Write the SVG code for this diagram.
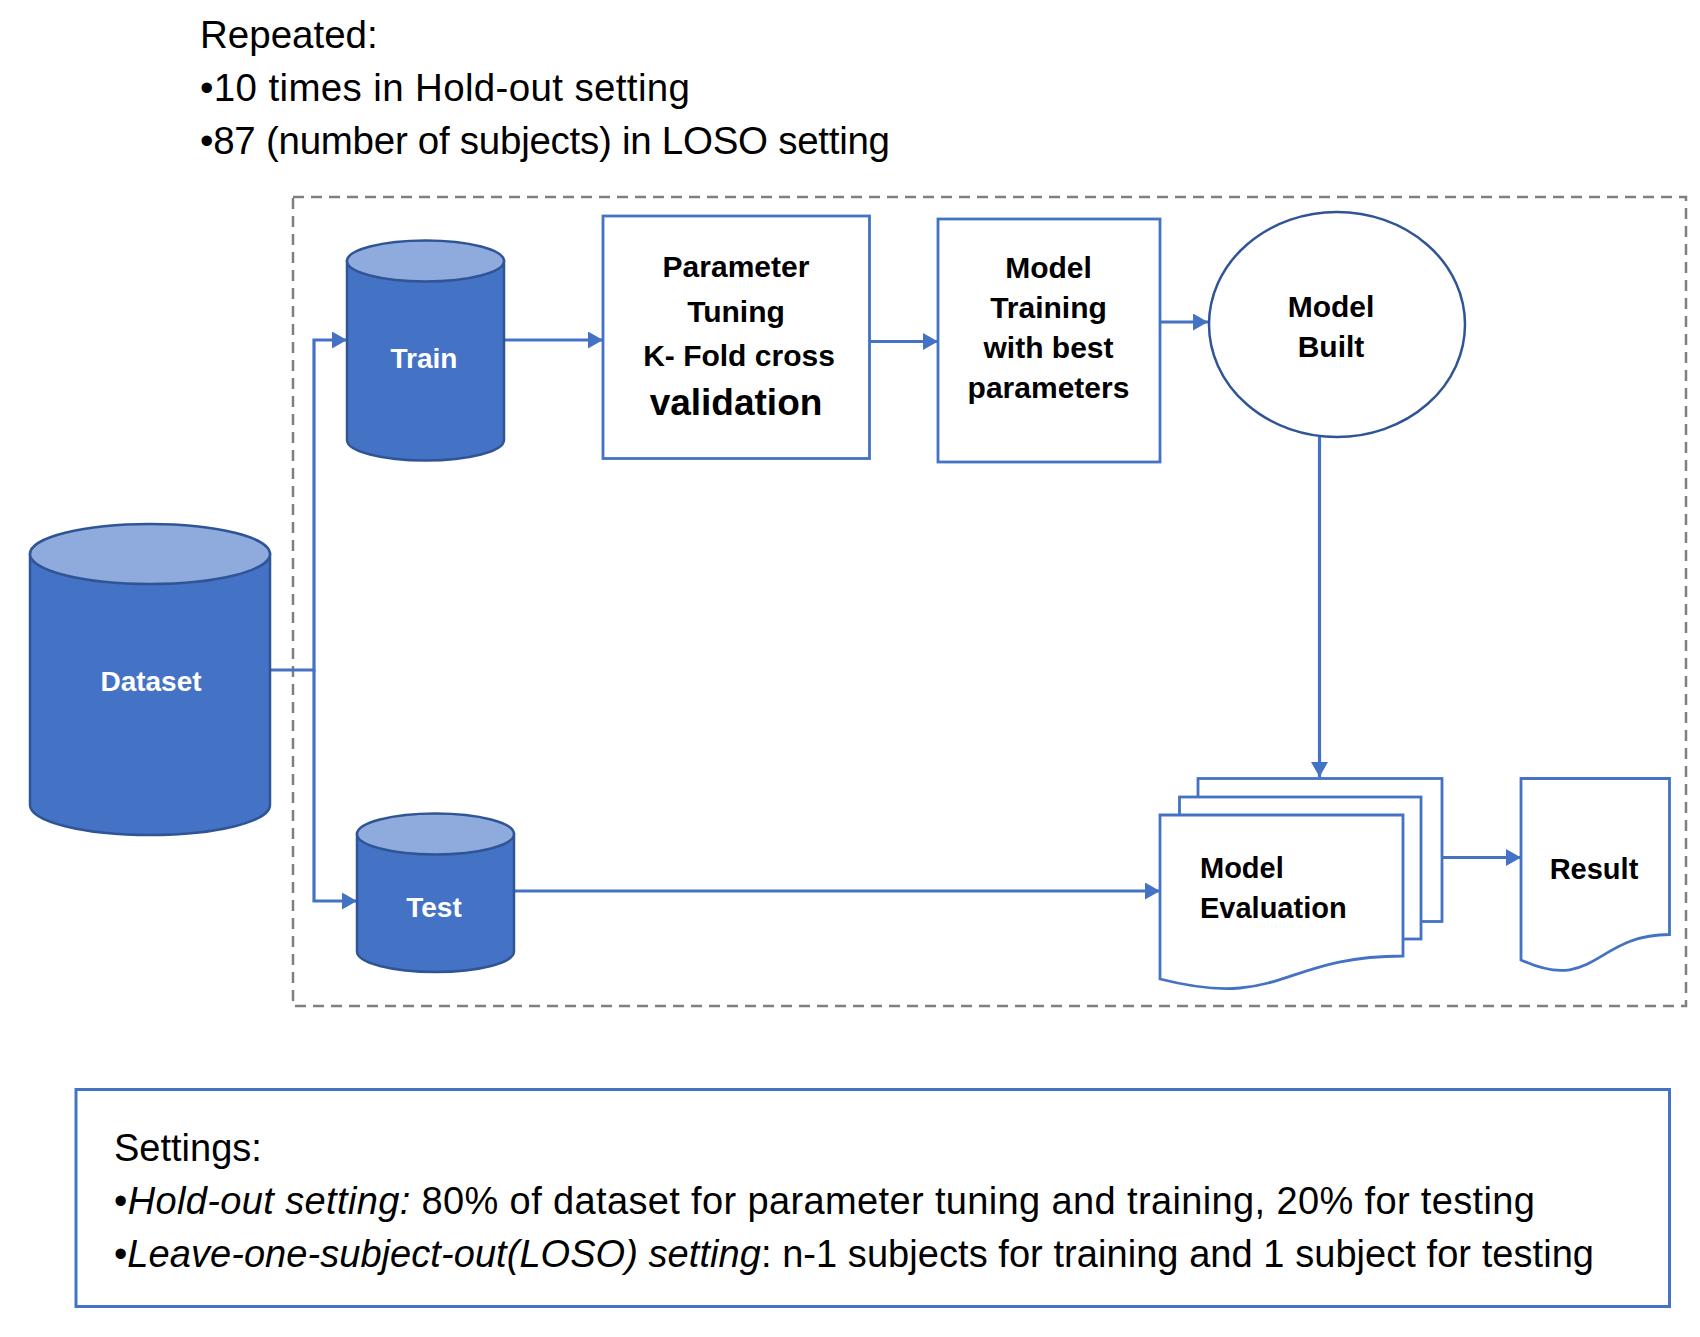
<svg xmlns="http://www.w3.org/2000/svg" width="1700" height="1337" viewBox="0 0 1700 1337">
<defs>
<marker id="arr" markerUnits="userSpaceOnUse" markerWidth="15" markerHeight="17" viewBox="0 0 15 17" refX="15" refY="8.5" orient="auto">
<path d="M0,0 L15,8.5 L0,17 Z" fill="#4472c4"/>
</marker>
</defs>
<style>
text{font-family:"Liberation Sans",Arial,sans-serif;}
.hdr{font-size:38.5px;fill:#000;}
.set{font-size:38px;fill:#000;}
.lbl{font-size:30px;font-weight:bold;fill:#000;text-anchor:middle;}
.wl{font-size:28px;font-weight:bold;fill:#fff;text-anchor:middle;}
.body{fill:#4472c4;stroke:#2f5597;stroke-width:2.5;}
.top{fill:#8faadc;stroke:#2f5597;stroke-width:2.5;}
.box{fill:#fff;stroke:#4472c4;stroke-width:2.8;}
.con{fill:none;stroke:#4472c4;stroke-width:3.2;}
</style>
<rect width="1700" height="1337" fill="#fff"/>

<g id="repeated">
<text class="hdr" x="200" y="48">Repeated:</text>
<text class="hdr" x="200" y="101" textLength="490" lengthAdjust="spacing">•10 times in Hold-out setting</text>
<text class="hdr" x="200" y="154" textLength="690" lengthAdjust="spacing">•87 (number of subjects) in LOSO setting</text>
</g>

<g id="loop">
<rect x="293" y="197" width="1393" height="809" fill="none" stroke="#7f7f7f" stroke-width="2.5" stroke-dasharray="11 7"/>
</g>

<g id="connectors">
<path class="con" d="M270,670 H314 V340 H347" marker-end="url(#arr)"/>
<path class="con" d="M314,670 V901 H357" marker-end="url(#arr)"/>
<path class="con" d="M504,340 H603" marker-end="url(#arr)"/>
<path class="con" d="M869.5,341.5 H938" marker-end="url(#arr)"/>
<path class="con" d="M1160,322 H1208" marker-end="url(#arr)"/>
<path class="con" d="M1319.5,437 V777" marker-end="url(#arr)"/>
<path class="con" d="M514,891 H1160" marker-end="url(#arr)"/>
<path class="con" d="M1442,857.5 H1521" marker-end="url(#arr)"/>
</g>

<g id="dataset">
<path class="body" d="M30,554 V805 A120,30 0 0 0 270,805 V554 Z"/>
<ellipse class="top" cx="150" cy="554" rx="120" ry="30"/>
<text class="wl" x="151" y="691">Dataset</text>
</g>

<g id="train">
<path class="body" d="M347,261 V440 A78.5,20.5 0 0 0 504,440 V261 Z"/>
<ellipse class="top" cx="425.5" cy="261" rx="78.5" ry="20.5"/>
<text class="wl" x="424" y="368">Train</text>
</g>

<g id="test">
<path class="body" d="M357,834 V951.5 A78.5,20.5 0 0 0 514,951.5 V834 Z"/>
<ellipse class="top" cx="435.5" cy="834" rx="78.5" ry="20.5"/>
<text class="wl" x="434" y="917">Test</text>
</g>

<g id="param">
<rect class="box" x="603" y="216" width="266.5" height="242.5"/>
<text class="lbl" x="736" y="277">Parameter</text>
<text class="lbl" x="736" y="322">Tuning</text>
<text class="lbl" x="739" y="366">K- Fold cross</text>
<text class="lbl" x="736" y="415" style="font-size:37px">validation</text>
</g>

<g id="training">
<rect class="box" x="938" y="219" width="222" height="243"/>
<text class="lbl" x="1048.5" y="278">Model</text>
<text class="lbl" x="1048.5" y="318">Training</text>
<text class="lbl" x="1048.5" y="358">with best</text>
<text class="lbl" x="1048.5" y="398">parameters</text>
</g>

<g id="built">
<ellipse cx="1337" cy="324.5" rx="128" ry="112.5" fill="#fff" stroke="#2f5597" stroke-width="2.5"/>
<text class="lbl" x="1331" y="317">Model</text>
<text class="lbl" x="1331" y="357">Built</text>
</g>

<g id="evaluation">
<rect class="box" x="1198" y="778.5" width="244" height="143"/>
<rect class="box" x="1179.5" y="797" width="241.5" height="142"/>
<path class="box" d="M1160,815 H1403 V956 C1281.5,956 1281.5,1010 1160,979 Z"/>
<text class="lbl" x="1200" y="878" style="text-anchor:start;font-size:29px">Model</text>
<text class="lbl" x="1200" y="918" style="text-anchor:start;font-size:29px">Evaluation</text>
</g>

<g id="result">
<path class="box" d="M1521,778.5 H1669.5 V934.5 C1595,934.5 1595,994 1521,960 Z"/>
<text class="lbl" x="1594" y="879" style="font-size:29px">Result</text>
</g>

<g id="settings">
<rect x="76" y="1089.5" width="1593.5" height="217" fill="#fff" stroke="#4472c4" stroke-width="3"/>
<text class="set" x="114" y="1161">Settings:</text>
<text class="set" x="114" y="1214" textLength="1421" lengthAdjust="spacing">•<tspan font-style="italic">Hold-out setting:</tspan> 80% of dataset for parameter tuning and training, 20% for testing</text>
<text class="set" x="114" y="1267" textLength="1480" lengthAdjust="spacing">•<tspan font-style="italic">Leave-one-subject-out(LOSO) setting</tspan>: n-1 subjects for training and 1 subject for testing</text>
</g>
</svg>
